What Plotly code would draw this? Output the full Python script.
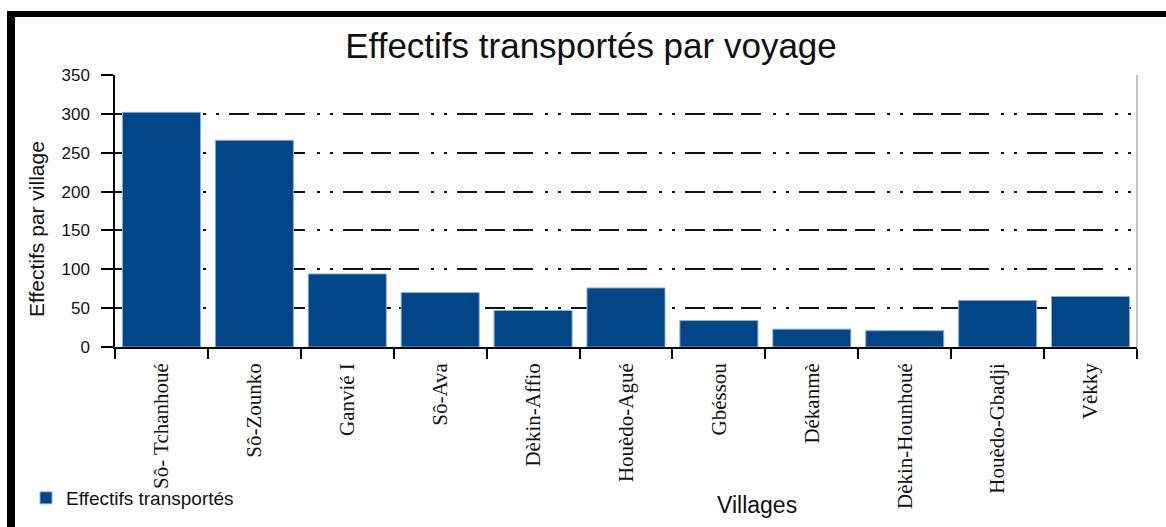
import plotly.graph_objects as go

villages = ["Sô- Tchanhoué", "Sô-Zounko", "Ganvié I", "Sô-Ava", "Dèkin-Affio",
            "Houèdo-Agué", "Gbéssou", "Dékanmè", "Dèkin-Hounhoué",
            "Houèdo-Gbadji", "Vèkky"]
effectifs = [302, 266, 94, 70, 47, 76, 34, 23, 21, 60, 65]
y_ticks = [0, 50, 100, 150, 200, 250, 300, 350]

W, H = 1166, 527
L, R, T, B = 115, 29, 75, 180
pw, ph = W - L - R, H - T - B

def px(x):
    return (x - L) / pw

def py(y):
    return (H - B - y) / ph

grid_dash = "20px,8px,20px,8px,20px,12px,3px,10px,3px,10px"

fig = go.Figure()
fig.add_trace(go.Bar(
    x=villages, y=effectifs, name="Effectifs transportés",
    marker=dict(color="#004586", line=dict(color="#8eaed6", width=1)),
))

fig.update_layout(
    width=W, height=H,
    margin=dict(l=L, r=R, t=T, b=B, autoexpand=False),
    paper_bgcolor="white", plot_bgcolor="white",
    bargap=0.16,
    title=dict(text="Effectifs transportés par voyage",
               font=dict(family="Liberation Sans", size=35, color="#111"),
               x=591 / W, xanchor="center", xref="container",
               y=1 - 46 / H, yanchor="middle", yref="container"),
    showlegend=True,
    legend=dict(xref="container", yref="container", x=26 / W, xanchor="left",
                y=1 - 498 / H, yanchor="middle",
                font=dict(family="Liberation Sans", size=19, color="#111"),
                bgcolor="rgba(0,0,0,0)"),
    xaxis=dict(
        type="category", tickangle=-90, tickson="boundaries",
        ticks="outside", ticklen=10, tickwidth=1.5, tickcolor="black",
        showline=True, linecolor="black", linewidth=1.5,
        showgrid=False, ticklabelstandoff=6,
        tickfont=dict(family="Liberation Serif", size=21, color="#111"),
    ),
    yaxis=dict(
        range=[0, 350], tickvals=y_ticks,
        ticks="outside", ticklen=12, tickwidth=1.5, tickcolor="black",
        showline=True, linecolor="black", linewidth=1.5,
        showgrid=True, gridcolor="#111", gridwidth=1.7, griddash=grid_dash,
        zeroline=False, ticklabelstandoff=8,
        tickfont=dict(family="Liberation Sans", size=17, color="#111"),
    ),
    annotations=[
        dict(text="Villages", xref="paper", yref="paper",
             x=px(757), y=py(505), xanchor="center", yanchor="middle",
             showarrow=False,
             font=dict(family="Liberation Sans", size=23, color="#111")),
        dict(text="Effectifs par village", xref="paper", yref="paper",
             x=px(36), y=py(229), xanchor="center", yanchor="middle",
             textangle=-90, showarrow=False,
             font=dict(family="Liberation Sans", size=21, color="#111")),
    ],
    shapes=[
        # right plot edge (thin grey)
        dict(type="line", xref="paper", yref="paper", x0=1, x1=1, y0=0, y1=1,
             line=dict(color="#b0b0b0", width=1.5)),
        # thick outer frame: top and left
        dict(type="line", xref="paper", yref="paper", x0=px(7), x1=px(1166),
             y0=py(14), y1=py(14), line=dict(color="black", width=6)),
        dict(type="line", xref="paper", yref="paper", x0=px(11), x1=px(11),
             y0=py(11), y1=py(527), line=dict(color="black", width=8)),
    ],
)

fig.write_html("out.html", config={"displayModeBar": False},
               post_script="document.body.style.margin='0';document.body.style.overflow='hidden';")
